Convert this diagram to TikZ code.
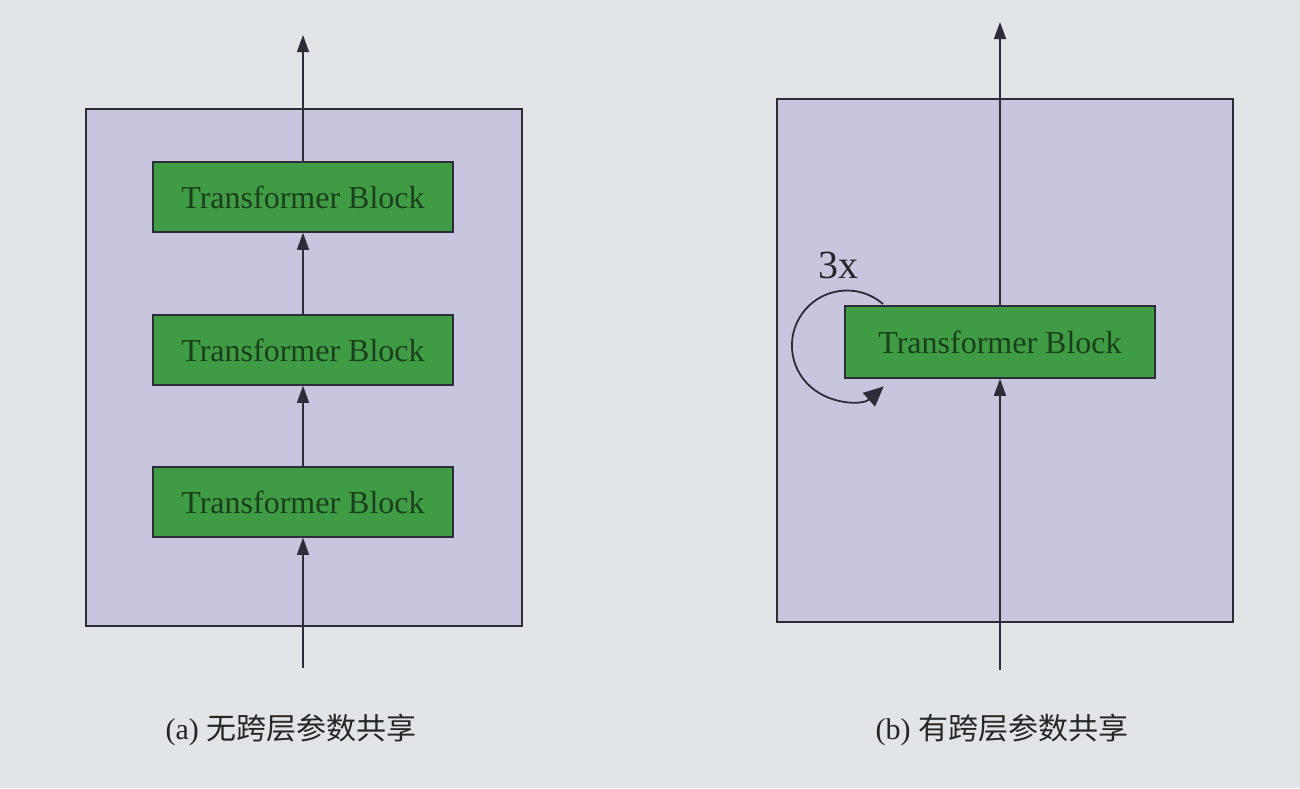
\documentclass[tikz,border=0pt]{standalone}
\usepackage{fontspec}
\setmainfont{Liberation Serif}
\newfontfamily\cjk{Noto Sans CJK SC}
\usetikzlibrary{arrows.meta}
\definecolor{bgc}{RGB}{226,229,231}
\definecolor{panelc}{RGB}{200,198,222}
\definecolor{blockc}{RGB}{64,156,68}
\definecolor{blocktxt}{RGB}{28,62,30}
\definecolor{inkc}{RGB}{45,45,55}
\tikzset{
  panel/.style={draw=inkc, line width=1.5pt, fill=panelc},
  tblock/.style={draw=inkc, line width=1.5pt, fill=blockc, text=blocktxt,
    minimum width=300pt, minimum height=70pt, inner sep=0pt,
    font=\fontsize{32}{38}\selectfont},
  flow/.style={draw=inkc, line width=1.4pt, -{Triangle[width=12pt,length=17pt]}},
  caption/.style={text=black!85, font=\fontsize{30}{36}\selectfont}
}
\begin{document}
\begin{tikzpicture}[x=1pt,y=-1pt]
\fill[bgc] (0,0) rectangle (1300,788);
\useasboundingbox (0,0) rectangle (1300,788);
% panel (a)
\node[panel, minimum width=436pt, minimum height=517pt, anchor=north west, inner sep=0pt] (pa) at (85,108) {};
\node[tblock] (a3) at (303,197) {Transformer Block};
\node[tblock] (a2) at (303,350) {Transformer Block};
\node[tblock] (a1) at (303,502) {Transformer Block};
\coordinate (ain) at (303,668);
\coordinate (aout) at (303,35);
\draw[flow] (ain) -- (a1.south);
\draw[flow] (a1.north) -- (a2.south);
\draw[flow] (a2.north) -- (a3.south);
\draw[flow] (a3.north) -- (aout);
\node[caption, anchor=west] (capa) at (162,730) {(a)\ {\cjk 无跨层参数共享}};
% panel (b)
\node[panel, minimum width=456pt, minimum height=523pt, anchor=north west, inner sep=0pt] (pb) at (776,98) {};
\draw[draw=inkc, line width=1.8pt, -{Triangle[width=18pt,length=20pt]}] (883,304) arc[start angle=-49, end angle=-312, radius=55];
\node[tblock, minimum width=310pt, minimum height=72pt] (b1) at (1000,342) {Transformer Block};
\coordinate (bin) at (1000,670);
\coordinate (bout) at (1000,22);
\draw[flow] (bin) -- (b1.south);
\draw[flow] (b1.north) -- (bout);
\node[text=black!85, font=\fontsize{40}{46}\selectfont] (rep) at (838,265) {3x};
\node[caption, anchor=west] (capb) at (872,730) {(b)\ {\cjk 有跨层参数共享}};
\end{tikzpicture}
\end{document}
